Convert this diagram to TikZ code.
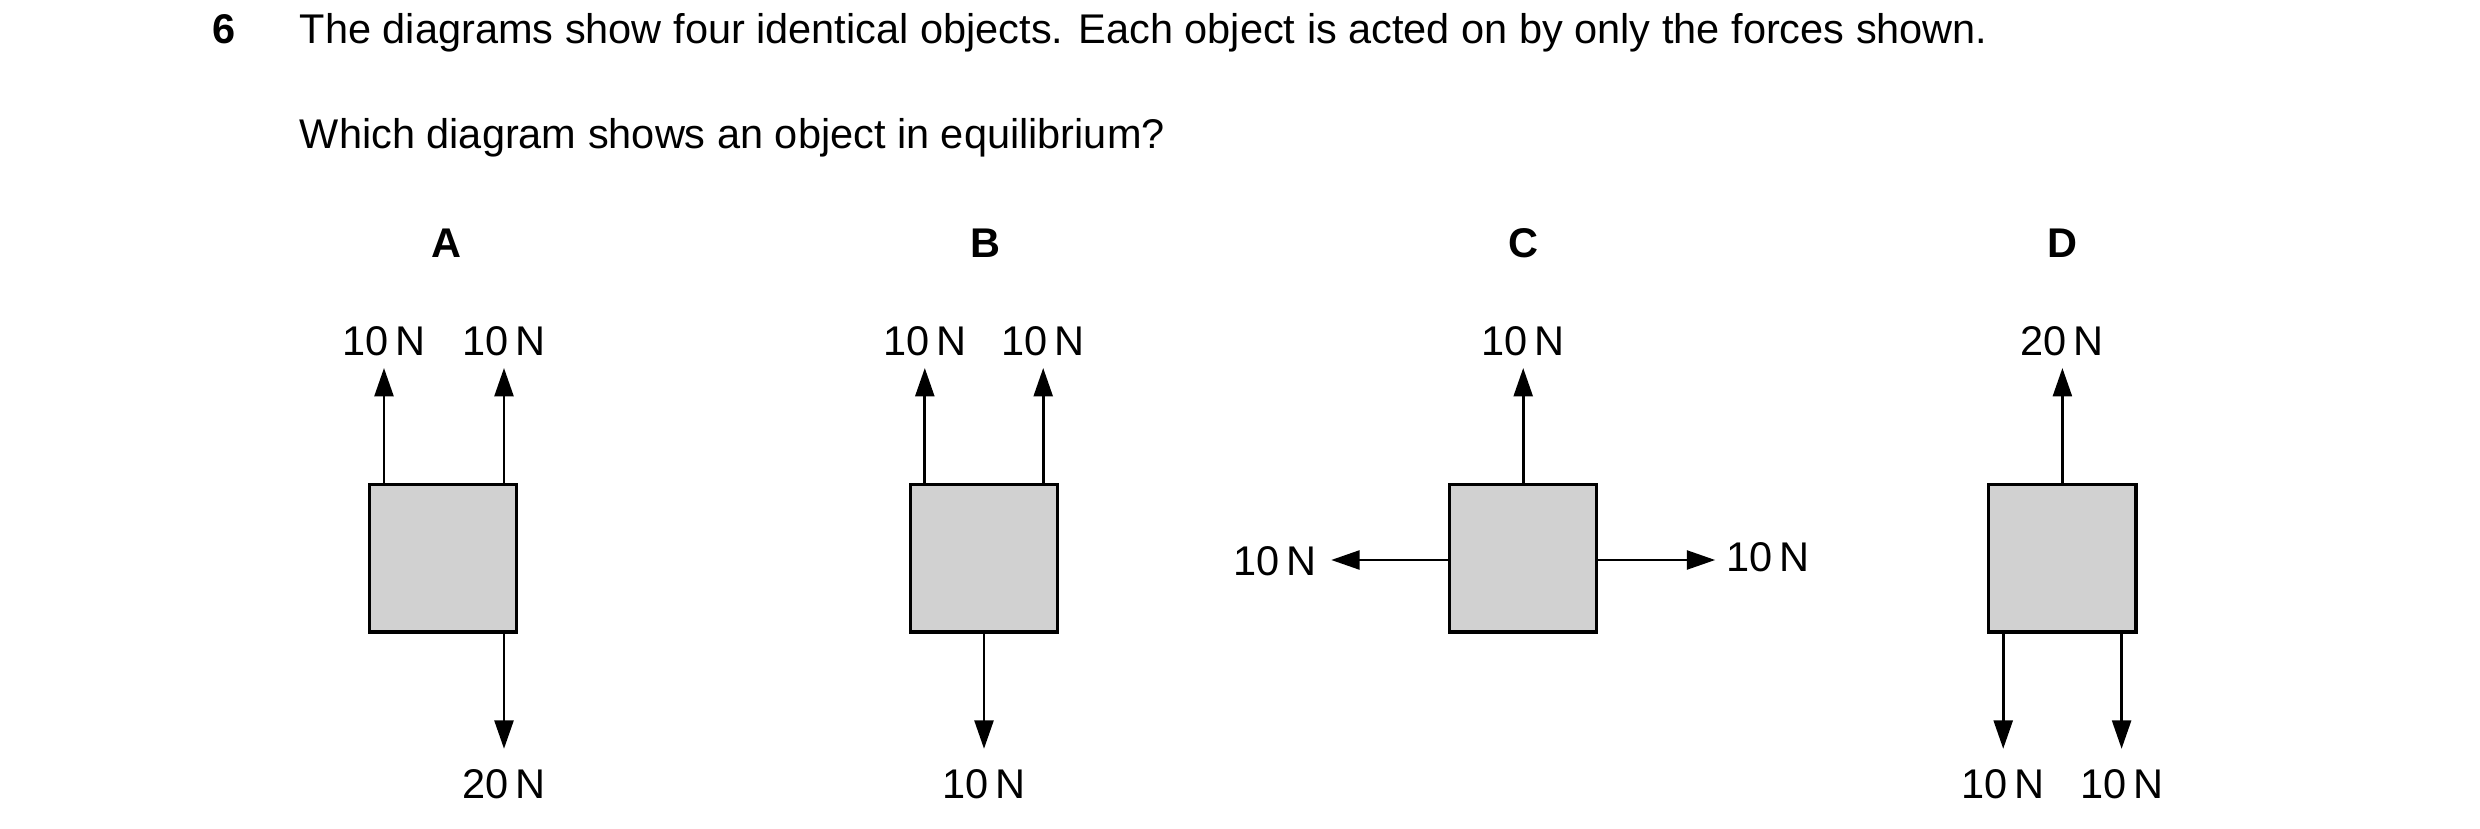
\documentclass[tikz,border=0pt]{standalone}
\usepackage{fontspec}
\setmainfont{Liberation Sans}
\usetikzlibrary{arrows.meta}
\begin{document}
\begin{tikzpicture}[x=0.016935cm, y=-0.016935cm]

    \tikzset{boxstyle/.style={draw, line width=1pt, fill=black!18, minimum size=1.558cm, inner sep=0pt}}
    \tikzset{force/.style={line width=0.8pt, -{Triangle[length=0.3cm, width=0.2cm]}}}
    \tikzset{label/.style={font=\fontsize{12.5}{15}\selectfont, inner sep=1pt}}
    \tikzset{letter/.style={font=\fontsize{12.5}{15}\selectfont\bfseries, inner sep=1pt}}

    \useasboundingbox (0,0) rectangle (1550,518);

    \node[letter, anchor=base] (qnum) at (140,27) {6};
    \node[label, anchor=base west, inner sep=0pt] (qtext) at (187,27) {The diagrams show four identical objects. Each object is acted on by only the forces shown.};
    \node[label, anchor=base west, inner sep=0pt] (qask) at (187,93) {Which diagram shows an object in equilibrium?};

    \node[letter] (la) at (279,152) {A};
    \node[letter] (lb) at (616,152) {B};
    \node[letter] (lc) at (952,152) {C};
    \node[letter] (ld) at (1289,152) {D};

    \node[boxstyle] (boxa) at (277,349) {};
    \node[boxstyle] (boxb) at (615,349) {};
    \node[boxstyle] (boxc) at (952,349) {};
    \node[boxstyle] (boxd) at (1289,349) {};

    % arrow tips
    \coordinate (a1) at (240,230);
    \coordinate (a2) at (315,230);
    \coordinate (a3) at (315,468);
    \coordinate (b1) at (578,230);
    \coordinate (b2) at (652,230);
    \coordinate (b3) at (615,468);
    \coordinate (c1) at (952,230);
    \coordinate (c2) at (832,350);
    \coordinate (c3) at (1072,350);
    \coordinate (d1) at (1289,230);
    \coordinate (d2) at (1252,468);
    \coordinate (d3) at (1326,468);

    \draw[force] (boxa.north -| a1) -- (a1);
    \draw[force] (boxa.north -| a2) -- (a2);
    \draw[force] (boxa.south -| a3) -- (a3);
    \draw[force] (boxb.north -| b1) -- (b1);
    \draw[force] (boxb.north -| b2) -- (b2);
    \draw[force] (boxb.south -| b3) -- (b3);
    \draw[force] (boxc.north) -- (c1);
    \draw[force] (boxc.west |- c2) -- (c2);
    \draw[force] (boxc.east |- c3) -- (c3);
    \draw[force] (boxd.north) -- (d1);
    \draw[force] (boxd.south -| d2) -- (d2);
    \draw[force] (boxd.south -| d3) -- (d3);

    \node[label] (fa1) at (240,213) {10\,N};
    \node[label] (fa2) at (315,213) {10\,N};
    \node[label] (fa3) at (315,490) {20\,N};
    \node[label] (fb1) at (578,213) {10\,N};
    \node[label] (fb2) at (652,213) {10\,N};
    \node[label] (fb3) at (615,490) {10\,N};
    \node[label] (fc1) at (952,213) {10\,N};
    \node[label] (fc2) at (797,351) {10\,N};
    \node[label] (fc3) at (1105,348) {10\,N};
    \node[label] (fd1) at (1289,213) {20\,N};
    \node[label] (fd2) at (1252,490) {10\,N};
    \node[label] (fd3) at (1326,490) {10\,N};

\end{tikzpicture}
\end{document}
